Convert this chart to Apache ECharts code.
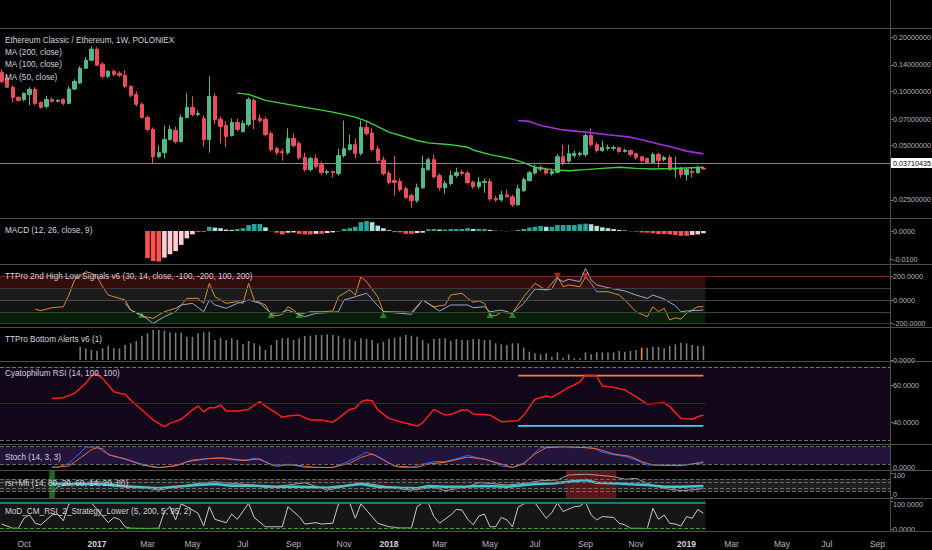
<!DOCTYPE html>
<html><head><meta charset="utf-8">
<script src="https://cdn.jsdelivr.net/npm/echarts@6/dist/echarts.min.js"></script>
<style>html,body{margin:0;padding:0;background:#000;}#c{width:932px;height:550px;}</style>
</head><body><div id="c"></div>
<script>
// ================= DATA =================
const firstWeek = '2016-09-05';          // open time of the first weekly candle
// weekly candles: [open, high, low, close]
const candles = [
[.1276,.1326,.1108,.1136],[.1181,.1215,.1040,.1053],[.1053,.1080,.0868,.0926],[.0926,.0938,.0880,.0891],
[.0902,.0987,.0880,.0975],[.0962,.1053,.0836,.1026],[.1026,.1053,.0836,.0858],[.0868,.0880,.0804,.0815],
[.0825,.0945,.0804,.0902],[.0902,.0926,.0868,.0880],[.0880,.0902,.0868,.0891],[.0902,.0914,.0836,.0858],
[.0858,.1066,.0847,.1030],[.1030,.1166,.1013,.1134],[.1112,.1378,.1100,.1343],[.1343,.1547,.1330,.1488],
[.1488,.1781,.1470,.1714],[.1714,.1758,.1380,.1396],[.1414,.1450,.1181,.1212],[.1212,.1309,.1181,.1292],
[.1292,.1326,.1212,.1244],[.1260,.1290,.1197,.1228],[.1228,.1309,.1040,.1066],[.1066,.1080,.0926,.0950],
[.0962,.1000,.0825,.0847],[.0847,.0868,.0707,.0716],[.0716,.0735,.0599,.0615],[.0615,.0631,.0397,.0434],
[.0434,.0500,.0425,.0457],[.0457,.0647,.0424,.0541],[.0541,.0647,.0534,.0615],[.0607,.0639,.0513,.0527],
[.0527,.0745,.0520,.0716],[.0716,.0975,.0707,.0815],[.0815,.0938,.0726,.0745],[.0745,.0784,.0726,.0754],
[.0707,.0735,.0494,.0541],[.0541,.1212,.0457,.0938],[.0938,.0975,.0660,.0698],[.0700,.0726,.0513,.0639],
[.0647,.0681,.0490,.0562],[.0569,.0707,.0562,.0672],[.0672,.0707,.0599,.0615],[.0599,.0689,.0591,.0664],
[.0655,.0926,.0639,.0902],[.0891,.0914,.0615,.0698],[.0707,.0745,.0672,.0689],[.0698,.0726,.0562,.0576],
[.0584,.0599,.0463,.0475],[.0481,.0494,.0440,.0457],[.0463,.0481,.0413,.0457],[.0457,.0623,.0446,.0548],
[.0548,.0584,.0488,.0500],[.0513,.0527,.0418,.0429],[.0429,.0457,.0359,.0368],[.0368,.0434,.0359,.0424],
[.0424,.0446,.0373,.0382],[.0392,.0408,.0345,.0354],[.0354,.0368,.0345,.0359],[.0359,.0363,.0332,.0354],
[.0350,.0481,.0341,.0440],[.0440,.0689,.0429,.0481],[.0475,.0576,.0469,.0506],[.0506,.0548,.0424,.0451],
[.0453,.0689,.0440,.0631],[.0631,.0689,.0569,.0584],[.0587,.0623,.0463,.0475],[.0479,.0500,.0397,.0413],
[.0416,.0434,.0341,.0350],[.0352,.0363,.0304,.0312],[.0320,.0440,.0264,.0312],[.0316,.0329,.0278,.0285],
[.0288,.0296,.0254,.0257],[.0264,.0271,.0226,.0247],[.0247,.0308,.0241,.0292],[.0292,.0440,.0288,.0373],
[.0368,.0429,.0363,.0418],[.0418,.0446,.0329,.0336],[.0341,.0350,.0281,.0292],[.0292,.0320,.0271,.0308],
[.0308,.0363,.0300,.0341],[.0341,.0377,.0332,.0354],[.0357,.0368,.0341,.0350],[.0352,.0363,.0304,.0312],
[.0314,.0320,.0288,.0296],[.0296,.0336,.0288,.0314],[.0312,.0329,.0274,.0316],[.0316,.0329,.0247,.0253],
[.0255,.0264,.0244,.0250],[.0250,.0281,.0244,.0267],[.0267,.0285,.0257,.0260],[.0260,.0267,.0229,.0235],
[.0235,.0304,.0232,.0288],[.0281,.0332,.0277,.0324],[.0320,.0363,.0316,.0354],[.0352,.0392,.0345,.0377],
[.0377,.0387,.0359,.0368],[.0368,.0377,.0345,.0352],[.0350,.0373,.0341,.0359],[.0356,.0451,.0350,.0434],
[.0434,.0506,.0387,.0402],[.0410,.0506,.0402,.0451],[.0440,.0469,.0429,.0453],[.0446,.0463,.0434,.0453],
[.0446,.0584,.0434,.0569],[.0569,.0623,.0494,.0506],[.0506,.0520,.0457,.0469],[.0469,.0534,.0463,.0488],
[.0483,.0506,.0469,.0488],[.0483,.0503,.0469,.0488],[.0486,.0494,.0457,.0463],[.0464,.0481,.0457,.0471],
[.0469,.0475,.0434,.0446],[.0451,.0457,.0418,.0429],[.0434,.0440,.0402,.0413],[.0424,.0429,.0397,.0402],
[.0402,.0457,.0397,.0446],[.0446,.0457,.0377,.0413],[.0418,.0440,.0408,.0429],[.0429,.0446,.0363,.0368],
[.0368,.0434,.0332,.0373],[.0373,.0382,.0332,.0345],[.0345,.0373,.0320,.0368],[.0359,.0377,.0332,.0354],
[.0354,.0387,.0350,.0377],[.0375,.0382,.0368,.03710435]
];
const lastPrice = 0.03710435;
// moving averages: [week index, value]
const ma50 = [[42,.0978],[44,.0962],[47,.0891],[53,.0825],[59,.0767],[63,.0719],[65,.0683],[69,.0594],[74,.0534],
[76,.0518],[80,.0506],[83,.0490],[84,.0473],[87,.0446],[91,.0421],[93,.0402],[95,.0379],[98,.0368],[101,.0363],
[104,.0368],[107,.0374],[110,.0379],[113,.0374],[116,.0371],[119,.0373],[122,.0376],[125,.0379]];
const ma100 = [[92,.0689],[94,.0681],[96,.0647],[100,.0611],[104,.0594],[108,.0574],[112,.0557],[114,.0539],
[117,.0511],[119,.0494],[122,.0466],[125,.0450]];
// MACD histogram, first value at week 26
const macdStart = 26;
const macdHist = [-.0096,-.0106,-.0108,-.0094,-.0082,-.0071,-.0049,-.0026,-.0012,-.0002,-.0003,.0015,.0012,.0010,
.0005,.0004,.0007,.0010,.0021,.0025,.0025,.0013,-.0001,-.0006,-.0012,-.0006,-.0005,-.0010,-.0012,-.0012,-.0010,
-.0010,-.0007,-.0005,-.0001,.0007,.0010,.0015,.0031,.0035,.0031,.0019,.0010,.0003,-.0004,-.0005,-.0010,-.0010,
-.0007,-.0006,.0006,.0007,.0005,.0005,.0007,.0007,.0007,.0010,.0007,.0007,.0007,.0004,.0001,.00005,-.0001,.0001,
.0004,.0007,.0012,.0015,.0018,.0015,.0015,.0021,.0021,.0021,.0021,.0024,.0026,.0024,.0018,.0013,.0010,.0007,
.0004,.0002,-.0001,-.0002,-.0005,-.0006,-.0008,-.0011,-.0011,-.0012,-.0014,-.0017,-.0017,-.0014,-.0012,-.0008];
// TTPro 2nd High Low Signals: [week, value]
const ttproFast = [[6,-79],[7,-90],[9,-65],[11,-57],[12,42],[13,169],[15,239],[16,226],[17,197],[18,112],[19,42],
[20,28],[22,0],[23,-85],[25,-135],[27,-155],[29,-99],[31,-70],[32,-42],[33,14],[35,14],[36,-28],[37,141],[38,28],
[40,-28],[42,-14],[43,-28],[44,141],[45,0],[47,-42],[48,-127],[49,-133],[50,-121],[51,-57],[52,-85],[53,-121],
[55,-99],[57,-99],[59,-93],[60,28],[62,85],[63,42],[64,197],[65,155],[67,28],[68,-99],[70,-99],[73,-104],[75,0],
[77,-57],[79,-42],[80,42],[82,57],[83,14],[84,-19],[85,-8],[86,-28],[87,-127],[88,-133],[89,-104],[91,-112],
[93,28],[95,141],[96,112],[97,85],[99,197],[100,112],[101,127],[103,112],[104,197],[105,141],[106,70],[108,70],
[110,42],[111,0],[113,-99],[115,-141],[116,-57],[117,-99],[118,-70],[119,-169],[120,-150],[121,-161],[122,-112],
[124,-57],[125,-57]];
const ttproSlow = [[22,-28],[23,-85],[25,-127],[27,-197],[29,-141],[31,-99],[32,-42],[34,-28],[36,-99],[37,0],
[38,-42],[40,-70],[42,-28],[44,0],[46,-28],[48,-112],[50,-104],[51,-85],[54,-141],[56,-112],[58,-107],[60,-99],
[61,0],[63,28],[65,57],[68,-99],[71,-112],[73,-121],[75,0],[78,-93],[80,-42],[83,-42],[84,-65],[86,-57],[87,-99],
[89,-85],[91,-112],[93,-28],[95,93],[97,85],[98,93],[99,183],[100,155],[101,175],[103,155],[104,268],[105,169],
[106,127],[108,104],[111,76],[113,42],[115,14],[116,42],[118,8],[120,-48],[121,-99],[122,-93],[125,-85]];
const ttproBuy = [[25,-127],[48,-127],[53,-127],[68,-127],[87,-127],[91,-127]];
const ttproSell = [[99,205],[104,205]];
// TTPro Bottom Alerts, first value at week 14
const bottomStart = 14;
const bottomAlerts = [13.3,11.7,10,9,11.7,14.3,11.7,11.7,15,16.7,19,24.3,26.7,30,30,29.3,27.7,27.3,27.3,23.3,
23.3,26.7,27.7,28.3,20,22.3,20,21.7,20,15.7,19,16.7,14.3,10,15,20,21.7,22.3,20,21.7,24,24.3,25,25,25.7,25,24.3,
21.7,21,19,21.7,21,20,16.7,18.3,21,22.3,23.3,25,24.3,23.3,20,16.7,21,21.7,21.7,19.3,21,20,20,21,21,20,20,16.7,
15.7,15,16.7,16.7,12.3,8.3,6.7,5.7,6.7,3.3,7.7,2.3,5.7,1.7,1.7,7.7,5.7,7.7,7.7,7.7,7.7,9,8.3,9,10,12.3,12.3,
13.3,13.3,11.7,14,15.7,17.3,16.7,15,14.3,14];
const bottomAlertFired = [114];
// Cyatophilum RSI
const cyaRsi = [[9,52.9],[11,53.3],[13,55.7],[15,61.1],[16,65.1],[17,66.2],[18,63.8],[20,56.5],[21,55.7],[22,55.1],
[23,52.0],[25,46.6],[27,41.1],[29,37.5],[30,39.3],[32,41.5],[34,46.6],[35,48.7],[36,45.6],[37,47.8],[38,47.8],
[39,49.3],[40,46.0],[42,46.0],[44,46.9],[45,49.3],[46,51.1],[47,48.7],[49,44.8],[50,42.6],[51,43.3],[53,43.8],
[55,41.1],[57,41.1],[59,39.9],[60,42.0],[62,46.9],[63,47.5],[64,51.1],[65,52.0],[66,51.6],[67,46.6],[69,42.0],
[71,40.2],[74,37.8],[75,39.6],[77,46.9],[79,43.8],[80,44.2],[82,46.6],[83,46.6],[84,44.4],[87,43.8],[89,40.2],
[92,40.7],[93,43.8],[95,52.4],[97,54.2],[98,53.5],[101,58.9],[102,60.2],[103,62.0],[104,65.6],[106,65.1],
[107,59.6],[109,58.9],[111,57.5],[113,53.8],[115,49.8],[118,50.5],[119,48.4],[121,42.0],[123,41.5],[124,42.9],
[125,43.8]];
const cyaLevelFrom = 92, cyaLevelTo = 125;
const cyaHigh = 65.3, cyaLow = 37.9;
// Stoch
const stochK = [[9,10.4],[10,8.3],[12,22.7],[14,58.6],[15,78.8],[17,78.8],[18,64.4],[20,46.4],[22,37],[25,20],
[27,8.3],[29,8.3],[32,20],[34,34.5],[37,39.2],[39,42.8],[41,34.5],[44,34.5],[45,40.6],[47,28.4],[49,10.4],[51,20],
[54,8.3],[57,8.3],[59,8.3],[61,22.7],[63,40.6],[65,60.8],[67,46.4],[69,22.7],[71,8.3],[73,8.3],[75,20],[77,28.4],
[79,28.4],[81,38.1],[83,50],[85,40.6],[87,32],[89,13],[91,8.3],[93,20],[95,58.6],[96,76.6],[98,80.2],[100,80.2],
[102,76.6],[105,78.8],[107,60.8],[109,52.5],[111,46.4],[113,34.5],[115,16.5],[117,16.5],[121,16.5],[123,20],
[125,28.4]];
const stochD = [[9,8.3],[12,13],[14,40.6],[16,70],[17,76.6],[18,73],[19,52.5],[22,38.1],[25,16.5],[28,8.3],[31,13],
[33,28.4],[37,39.2],[40,40.6],[43,32],[46,38],[48,16.5],[52,16.5],[56,8.3],[59,8.3],[62,22.7],[64,42.8],[66,55],
[68,34.5],[70,13],[74,8.3],[76,20],[79,26.3],[83,44],[86,37],[89,20],[91,8.3],[93,22.7],[95,55],[97,76.6],
[101,80.2],[104,76.6],[106,73],[109,55],[112,46.4],[114,28.4],[116,16.5],[121,14],[123,20],[125,24.8]];
// rsi+Mfi
const rsiMfiRsi = [[9,58],[12,55],[18,54],[21,47],[25,42],[28,37.5],[31,44],[35,51],[38,55],[41,48],[45,48],[49,44],
[53,44],[58,40],[61,47],[64,55],[67,44],[71,40],[74,37.5],[76,47],[79,44],[83,45],[86,47],[90,44],[95,55],[98,58],
[101,65],[104,72],[106,61],[110,58],[112,54],[115,51],[118,44],[121,44],[125,47]];
const rsiMfiMfi = [[9,23],[10,44],[13,58],[17,65],[19,61],[22,44],[26,37.5],[28,30],[32,47],[35,58],[38,65],[41,58],
[45,51],[47,40],[51,51],[54,61],[58,30],[61,44],[64,61],[67,51],[70,37.5],[73,30],[77,42],[79,27.5],[83,44],
[85,61],[87,58],[90,51],[93,58],[96,69],[99,72],[101,93],[104,96],[106,93],[109,86],[111,75],[113,79],[115,58],
[118,37.5],[121,27.5],[124,33],[125,37.5]];
const rsiMfiLevels = [75, 61, 37, 26];
const rsiMfiBuyWeeks = [9];
const rsiMfiSellWeeks = [101,102,103,104,105,106,107,108,109];
// MoD_CM_RSI_2_Strategy_Lower
const modRsi = [[0,19],[2,4],[3,4],[4,40],[5,52],[6,22],[7,16],[9,52],[10,55],[11,31],[12,92],[13,96],[16,96],[18,48],
[19,24],[20,43],[21,36],[22,9],[23,4],[26,3],[28,4],[29,64],[30,82],[31,34],[32,92],[33,82],[35,58],[36,12],[37,82],
[38,36],[40,24],[41,55],[42,36],[44,94],[45,43],[47,9],[50,9],[51,82],[53,46],[54,19],[56,24],[57,19],[59,22],
[60,92],[61,96],[62,96],[63,40],[64,92],[66,46],[67,22],[69,9],[71,5],[73,5],[74,82],[75,96],[76,96],[77,46],
[78,22],[80,52],[81,72],[82,70],[83,37],[84,16],[85,48],[86,55],[87,9],[88,9],[89,43],[90,34],[91,9],[92,80],
[93,92],[94,96],[95,96],[97,40],[98,60],[99,96],[100,64],[102,82],[103,84],[104,99],[105,52],[106,34],[107,46],
[109,43],[110,22],[111,16],[112,4],[115,3],[116,76],[117,36],[118,52],[119,22],[120,19],[121,12],[122,46],
[123,40],[124,72],[125,58]];
// axis tick labels
const priceTicks = [0.2, 0.14, 0.1, 0.07, 0.05, 0.025];
const macdTicks = [0, -0.01];
const ttproTicks = [200, 0, -200];
const cyaTicks = [60, 40];
const timeTicks = [['2016-10-03','Oct'],['2017-01-02','2017'],['2017-03-06','Mar'],['2017-05-01','May'],
['2017-07-03','Jul'],['2017-09-04','Sep'],['2017-11-06','Nov'],['2018-01-01','2018'],['2018-03-05','Mar'],
['2018-05-07','May'],['2018-07-02','Jul'],['2018-09-03','Sep'],['2018-11-05','Nov'],['2019-01-07','2019'],
['2019-03-04','Mar'],['2019-05-06','May'],['2019-07-01','Jul'],['2019-09-02','Sep']];

// ================= CHART =================
const DAY = 864e5;
const t0 = Date.parse(firstWeek + 'T00:00:00Z');
const wk = i => t0 + i * 7 * DAY;
const xMin = t0 - 1.92 * DAY, xMax = t0 + 1107.6 * DAY;
const xEnd = wk(candles.length - 1) + 2.5 * DAY;
const pairs = arr => arr.map(([i, v]) => [wk(i), v]);
const FONT = "'Liberation Sans',Arial,sans-serif";
const AX = '#b2b5be', TXT = '#d1d4dc';

const panes = [ // top, height, yMin, yMax
  [28, 190, 0.01984, 0.2245],
  [218, 46, -0.01165, 0.00459],
  [264, 63, -228, 304],
  [327, 34, -1, 33],
  [361, 83, 28.04, 73.27],
  [444, 26, -0.7, 89.5],
  [470, 28, -2.9, 113.75],
  [498, 33, -6.2, 113.4]
];
// label nudges ('u' = up, 'd' = down) to keep stacked pane labels readable
const tickSets = [
  {vals: priceTicks, fmt: v => v.toFixed(8)},
  {vals: macdTicks, fmt: v => v.toFixed(4)},
  {vals: ttproTicks, fmt: v => v.toFixed(4)},
  {vals: [0], fmt: v => v.toFixed(4)},
  {vals: cyaTicks, fmt: v => v.toFixed(4)},
  {vals: [0], fmt: v => '{u|' + v.toFixed(4) + '}'},
  {vals: [100, 0], fmt: v => v === 100 ? '{d|100}' : '{u|0}'},
  {vals: [100, 0], fmt: v => v === 100 ? '{d|' + v.toFixed(4) + '}' : v.toFixed(4)}
];
const tickMap = {};
timeTicks.forEach(([d, l]) => { tickMap[Date.parse(d + 'T00:00:00Z')] = l; });
const timeVals = timeTicks.map(([d]) => Date.parse(d + 'T00:00:00Z'));

const grid = panes.map(p => ({left: 0, right: 42, top: p[0], height: p[1], outerBoundsMode: 'none', containLabel: false}));
const xAxis = panes.map((p, k) => ({
  type: 'value', gridIndex: k, min: xMin, max: xMax, scale: true,
  axisLine: {show: false}, axisTick: {show: false}, splitLine: {show: false},
  axisPointer: {show: false},
  axisLabel: k === panes.length - 1 ? {
    show: true, customValues: timeVals, margin: 8, fontSize: 8.5, color: AX, fontFamily: FONT,
    formatter: v => { const l = tickMap[v] || ''; return /^\d{4}$/.test(l) ? '{y|' + l + '}' : l; },
    rich: {y: {fontWeight: 'bold', color: TXT, fontSize: 8.5, fontFamily: FONT}}
  } : {show: false}
}));
const labRich = {
  u: {fontSize: 7.2, color: AX, fontFamily: FONT, padding: [0, 0, 5, 0]},
  d: {fontSize: 7.2, color: AX, fontFamily: FONT, padding: [5, 0, 0, 0]}
};
const yAxis = panes.map((p, k) => ({
  type: k === 0 ? 'log' : 'value', gridIndex: k, position: 'right', min: p[2], max: p[3], scale: true,
  axisLine: {show: false}, splitLine: {show: false},
  axisTick: {show: true, customValues: tickSets[k].vals, length: 3, lineStyle: {color: '#777'}},
  axisLabel: {show: true, customValues: tickSets[k].vals, margin: 3, fontSize: 7.2, color: AX, fontFamily: FONT,
    formatter: v => tickSets[k].fmt(v), rich: labRich}
}));

const hl = (y, color, type, width) => ({yAxis: y, lineStyle: {color, type: type || 'solid', width: width || 1}});
const seg = (y, color, type, width) => [{coord: [xMin, y], lineStyle: {color, type: type || 'solid', width: width || 1}}, {coord: [xEnd, y]}];
const band = (y1, y2, color, xa, xb) => [{xAxis: xa == null ? xMin : xa, yAxis: y1, itemStyle: {color}}, {xAxis: xb == null ? xMax : xb, yAxis: y2}];

// MACD colors
const macdData = macdHist.map((v, j) => {
  const prev = j > 0 ? macdHist[j - 1] : 0;
  let c;
  if (v >= 0) c = v >= prev ? '#26a69a' : '#b2dfdb';
  else c = v <= prev ? '#ff5252' : '#ffcdd2';
  return {value: [wk(macdStart + j), v], itemStyle: {color: c}};
});
const bottomData = bottomAlerts.map((v, j) => ({
  value: [wk(bottomStart + j), v],
  itemStyle: {color: bottomAlertFired.includes(bottomStart + j) ? '#e8892e' : '#7a7a7a'}
}));

const series = [
  { // 0 candles
    type: 'candlestick', xAxisIndex: 0, yAxisIndex: 0, barWidth: 3.8,
    data: candles.map((c, i) => [wk(i), c[0], c[3], c[2], c[1]]),
    itemStyle: {color: '#53b987', color0: '#eb4d5c', borderColor: '#53b987', borderColor0: '#eb4d5c', borderWidth: 1},
    markLine: {silent: true, symbol: 'none', animation: false,
      lineStyle: {color: '#8a8a8a', type: 'solid', width: 1},
      label: {position: 'end', distance: 1, formatter: () => lastPrice.toFixed(8), backgroundColor: '#ffffff',
        color: '#000', padding: [2, 2, 1, 2], fontSize: 7.2, fontFamily: FONT},
      data: [{yAxis: lastPrice}]}
  },
  {type: 'line', xAxisIndex: 0, yAxisIndex: 0, data: pairs(ma100), showSymbol: false, lineStyle: {color: '#a330e0', width: 1.6}},
  {type: 'line', xAxisIndex: 0, yAxisIndex: 0, data: pairs(ma50), showSymbol: false, lineStyle: {color: '#3ad43a', width: 1.4}},
  // 3 MACD
  {type: 'bar', xAxisIndex: 1, yAxisIndex: 1, barWidth: 4.6, data: macdData},
  // 4 TTPro fast
  {type: 'line', xAxisIndex: 2, yAxisIndex: 2, data: pairs(ttproFast), showSymbol: false, lineStyle: {color: '#e08a2e', width: 1},
    markArea: {silent: true, data: [
      band(100, 200, '#330c0c', xMin, xEnd), band(0, 100, '#1b1b1b', xMin, xEnd),
      band(-100, 0, '#131313', xMin, xEnd), band(-200, -100, '#0a1d0a', xMin, xEnd)]},
    markLine: {silent: true, symbol: 'none', label: {show: false}, data: [
      hl(200, '#7a2a2a'), hl(100, '#3a3a3a'), hl(0, '#4a4a4a'), hl(-100, '#2e4d2e'), hl(-200, '#3a3a3a')]}
  },
  {type: 'line', xAxisIndex: 2, yAxisIndex: 2, data: pairs(ttproSlow), showSymbol: false, lineStyle: {color: '#9aa8d0', width: 1}},
  {type: 'scatter', xAxisIndex: 2, yAxisIndex: 2, data: pairs(ttproBuy), symbol: 'triangle', symbolSize: [7, 6], itemStyle: {color: '#1fa52a'}},
  {type: 'scatter', xAxisIndex: 2, yAxisIndex: 2, data: pairs(ttproSell), symbol: 'triangle', symbolRotate: 180, symbolSize: [7, 6], itemStyle: {color: '#ff2020'}},
  // 8 Bottom alerts
  {type: 'bar', xAxisIndex: 3, yAxisIndex: 3, barWidth: 1.6, data: bottomData},
  // 9 Cyatophilum RSI
  {type: 'line', xAxisIndex: 4, yAxisIndex: 4, data: pairs(cyaRsi), showSymbol: false, lineStyle: {color: '#ff1c1c', width: 1.5}, z: 4,
    markArea: {silent: true, data: [band(30, 70, '#12061b')]},
    markLine: {silent: true, symbol: 'none', label: {show: false}, data: [
      hl(70, '#2f9e2f', 'dashed'), hl(30, '#6a6a6a', 'dashed'), seg(50, '#24248c')]}
  },
  {type: 'line', xAxisIndex: 4, yAxisIndex: 4, showSymbol: false, lineStyle: {color: '#f0803c', width: 1.8},
    data: [[wk(cyaLevelFrom), cyaHigh], [wk(cyaLevelTo), cyaHigh]]},
  {type: 'line', xAxisIndex: 4, yAxisIndex: 4, showSymbol: false, lineStyle: {color: '#4ec9e8', width: 1.8},
    data: [[wk(cyaLevelFrom), cyaLow], [wk(cyaLevelTo), cyaLow]]},
  // 12 Stoch
  {type: 'line', xAxisIndex: 5, yAxisIndex: 5, data: pairs(stochK), showSymbol: false, lineStyle: {color: '#2f6bff', width: 1},
    markArea: {silent: true, data: [band(20, 80, '#23143b')]},
    markLine: {silent: true, symbol: 'none', label: {show: false}, data: [hl(80, '#6a6a6a', 'dashed'), hl(20, '#6a6a6a', 'dashed')]}
  },
  {type: 'line', xAxisIndex: 5, yAxisIndex: 5, data: pairs(stochD), showSymbol: false, lineStyle: {color: '#f26a3c', width: 1}},
  // 14 rsi+Mfi
  {type: 'line', xAxisIndex: 6, yAxisIndex: 6, data: pairs(rsiMfiMfi), showSymbol: false, lineStyle: {color: '#9e9e9e', width: 1}, z: 3,
    markArea: {silent: true, data: [band(rsiMfiLevels[3], rsiMfiLevels[0], '#1f1f1f')]
      .concat(rsiMfiSellWeeks.map(i => band(-2.9, 113.75, '#5e1616', wk(i) - 3.5 * DAY, wk(i) + 3.5 * DAY)))
      .concat(rsiMfiBuyWeeks.map(i => band(-2.9, 113.75, '#1f6a1f', wk(i) - 3.5 * DAY, wk(i) + 3.5 * DAY)))},
    markLine: {silent: true, symbol: 'none', label: {show: false}, data: rsiMfiLevels.map(v => hl(v, '#6a6a6a', 'dashed'))}
  },
  {type: 'line', xAxisIndex: 6, yAxisIndex: 6, data: pairs(rsiMfiRsi), showSymbol: false, lineStyle: {color: '#3ec6d6', width: 2.5}, z: 2},
  // 16 MoD
  {type: 'line', xAxisIndex: 7, yAxisIndex: 7, data: pairs(modRsi), showSymbol: false, lineStyle: {width: 1}, z: 4,
    markArea: {silent: true, data: [band(-6.2, 113.4, '#161616', xMin, xEnd)]},
    markLine: {silent: true, symbol: 'none', label: {show: false}, data: [seg(95, '#17806a', 'solid', 2), seg(5, '#3aa03a', 'dashed', 1)]}
  }
];

const titles = [
  ['Ethereum Classic / Ethereum, 1W, POLONIEX', 36],
  ['MA (200, close)', 48], ['MA (100, close)', 60], ['MA (50, close)', 73],
  ['MACD (12, 26, close, 9)', 226],
  ['TTPro 2nd High Low Signals v6 (30, 14, close, -100, -200, 100, 200)', 272],
  ['TTPro Bottom Alerts v6 (1)', 335],
  ['Cyatophilum RSI (14, 100, 100)', 369],
  ['Stoch (14, 3, 3)', 453],
  ['rsi+Mfi (14, 80, 20, 60, 14, 20, 80)', 479],
  ['MoD_CM_RSI_2_Strategy_Lower (5, 200, 5, 95, 2)', 507]
].map(([t, y]) => ({text: t, left: 5, top: y, padding: 0,
  textStyle: {color: TXT, fontSize: 8.2, fontWeight: 'normal', fontFamily: FONT}}));

const sepY = [28, 218, 264, 327, 361, 444, 470, 498, 531];
const graphic = sepY.map(y => ({type: 'line', silent: true, z: 10,
  shape: {x1: 0, y1: y + 0.5, x2: 932, y2: y + 0.5}, style: {stroke: '#4e4e4e', lineWidth: 1}}))
  .concat([{type: 'line', silent: true, z: 10, shape: {x1: 890.5, y1: 0, x2: 890.5, y2: 531}, style: {stroke: '#4e4e4e', lineWidth: 1}}]);

const chart = echarts.init(document.getElementById('c'), null, {renderer: 'svg', width: 932, height: 550});
chart.setOption({
  backgroundColor: '#000',
  animation: false,
  title: titles,
  grid, xAxis, yAxis, series, graphic,
  visualMap: [{type: 'piecewise', show: false, seriesIndex: 16, dimension: 1,
    pieces: [{lt: 8, color: '#3ee23e'}, {gte: 8, lte: 94, color: '#c8c8c8'}, {gt: 94, color: '#e53935'}]}]
});
</script></body></html>
